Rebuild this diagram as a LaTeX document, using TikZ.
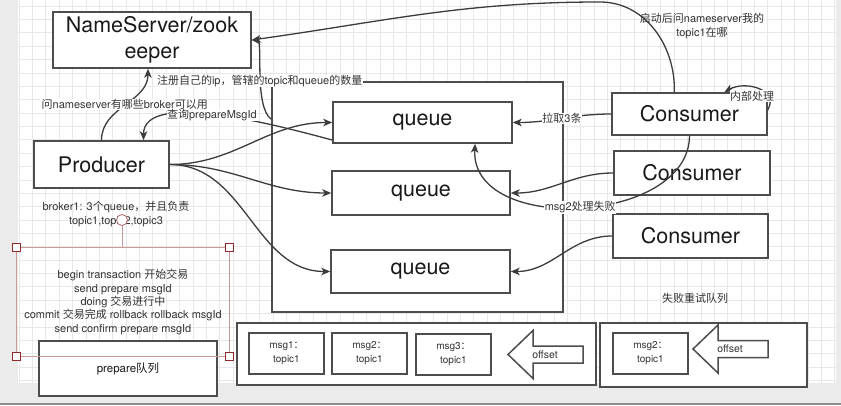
\documentclass[tikz,border=0pt]{standalone}
\usepackage{fontspec}
\setmainfont{TeX Gyre Heros}
\newfontfamily\cjk{Noto Sans CJK SC}
\newcommand{\zh}[1]{{\cjk #1}}
\usepackage{tikz}
\usetikzlibrary{arrows.meta}

\definecolor{edgegray}{HTML}{3C3C3C}
\definecolor{boxgray}{HTML}{4D4D4D}
\definecolor{gridgray}{HTML}{E8E8E8}
\definecolor{pagegray}{HTML}{EBEBEB}
\definecolor{selred}{HTML}{8E2A2A}
\definecolor{selpink}{HTML}{C99A9A}

% hollow "offset" pointer: tip x, tip y, node name
\newcommand{\offsetpointer}[3]{%
  \draw[arrowshape] (#1,#2) -- ++(25,24) -- ++(0,-15.5) -- ++(50,0) -- ++(0,-17) -- ++(-50,0) -- ++(0,-15.5) -- cycle;
  \node (#3) [arrowtxt] at ({#1+37},#2) {offset};}

\begin{document}
\begin{tikzpicture}
    [
      x=1pt, y=1pt,
      box/.style={draw=boxgray, line width=1.5pt, fill=white, inner sep=0pt, align=center, text=black!90, font=\fontsize{21.5}{26}\selectfont},
      brokerbox/.style={draw=boxgray, line width=1.5pt, fill=white, inner sep=0pt},
      msg/.style={draw=boxgray, line width=1.5pt, fill=white, inner sep=0pt, align=center, minimum width=75pt, minimum height=41pt, text=black!80, font=\fontsize{10}{14}\selectfont},
      lbl/.style={fill=white, inner sep=0.5pt, align=center, text=black!80, font=\fontsize{11}{13.3}\selectfont},
      note/.style={align=center, text=black!80, font=\fontsize{11}{13.3}\selectfont},
      arrowshape/.style={draw=boxgray, line width=1.5pt, fill=white, line join=miter},
      arrowtxt/.style={inner sep=0pt, text=black!80, font=\fontsize{10.5}{12}\selectfont},
      handle/.style={draw=selred, fill=white, line width=0.8pt, minimum size=8pt, inner sep=0pt},
      post/.style={-{Stealth[length=9pt,width=7.5pt,inset=2.5pt]}, draw=edgegray, line width=1.3pt},
    ]

    \useasboundingbox (0,0) rectangle (841,405);
    % canvas and grid
    \fill[pagegray] (0,0) rectangle (841,405);
    \fill[white] (18,22) rectangle (836,405);
    \foreach \i in {0,...,61} \draw[gridgray, line width=0.6pt] ({19+13.37*\i},22) -- ({19+13.37*\i},405);
    \foreach \j in {0,...,28} \draw[gridgray, line width=0.6pt] (18,{399-13.37*\j}) -- (836,{399-13.37*\j});
    \draw[black!45, line width=2pt] (0,1.5) -- (841,1.5);

    \node (nameserver) [box, minimum width=198pt, minimum height=56pt] at (152,365) {NameServer/zook\\eeper};
    \node (producer) [box, minimum width=135pt, minimum height=47pt] at (101.5,240.5) {Producer};
    \node (broker) [brokerbox, minimum width=291pt, minimum height=230pt] at (417.5,208) {};
    \node (queue1) [box, minimum width=179pt, minimum height=41pt] at (422.5,282.5) {queue};
    \node (queue2) [box, minimum width=178pt, minimum height=44pt] at (421,212) {queue};
    \node (queue3) [box, minimum width=179pt, minimum height=43pt] at (420.5,133.5) {queue};
    \node (c1) [box, minimum width=155pt, minimum height=42pt] at (689.5,291) {Consumer};
    \node (c2) [box, minimum width=156pt, minimum height=44pt] at (692,232) {Consumer};
    \node (c3) [box, minimum width=155pt, minimum height=44pt] at (690.5,169) {Consumer};

    \node (brokertxt) [note] at (116,191) {broker1: 3\zh{个}queue\zh{，并且负责}\\topic1,topic2,topic3};
    \node (steps) [note] at (123,103) {begin transaction \zh{开始交易}\\send prepare msgId\\doing \zh{交易进行中}\\commit \zh{交易完成} rollback rollback msgId\\send confirm prepare msgId};
    \node (prepq) [box, minimum width=178pt, minimum height=55pt, font=\fontsize{11.5}{13}\selectfont] at (128,36.5) {prepare\zh{队列}};

    % consume queue
    \node (msgq) [brokerbox, minimum width=359pt, minimum height=62pt] at (416.5,51) {};
    \node (m1) [msg] at (286.5,51.5) {msg1\zh{：}\\topic1};
    \node (m2) [msg] at (369.5,51.5) {msg2\zh{：}\\topic1};
    \node (m3) [msg] at (453.5,50.5) {msg3\zh{：}\\topic1};
    \offsetpointer{508}{50.5}{off1}

    % retry queue
    \node (retrytxt) [note] at (695,107) {\zh{失败重试队列}};
    \node (retryq) [brokerbox, minimum width=207pt, minimum height=64pt] at (703.5,50) {};
    \node (rm2) [msg] at (650.5,51.5) {msg2\zh{：}\\topic1};
    \offsetpointer{693}{56}{off2}

    \path
    (producer.east) edge [post, out=0, in=180] (queue1.west)
    (producer.east) edge [post, out=0, in=180] (queue2.west)
    (producer.east) edge [post, out=0, in=180] (queue3.west)
    (producer.north) edge [post, out=90, in=-90] node [lbl, pos=0.5] {\zh{问}nameserver\zh{有哪些}broker\zh{可以用}} (nameserver.262)
    (queue1.191) edge [post, out=165, in=90, looseness=0.7] node [lbl, pos=0.53] {\zh{查询}prepareMsgId} (producer.30)
    (c1.west) edge [post, out=180, in=0] node [lbl] {\zh{拉取}3\zh{条}} (queue1.east)
    (c2.west) edge [post, out=180, in=0] (queue2.east)
    (c3.west) edge [post, out=180, in=0] (queue3.east)
    ;

    \draw[post] (broker.152) .. controls (254,298) and (263,364) .. (nameserver.east)
      node [lbl, pos=0.45] {\zh{注册自己的}ip\zh{，管辖的}topic\zh{和}queue\zh{的数量}};

    \coordinate (peak) at (600,403);
    \draw[post] (c1.125) to[out=88, in=0] (peak) to[out=180, in=8] (nameserver.east);
    \node (asktxt) [note] at (702,379) {\zh{启动后问}nameserver\zh{我的}\\topic1\zh{在哪}};

    \draw[post] (c1.3) to[out=60, in=30, looseness=1.3] (c1.32);
    \node (selftxt) [lbl] at (752,309) {\zh{内部处理}};

    \draw[post] (c1.south) .. controls (689,180) and (470,170) .. (queue1.338)
      node [lbl, pos=0.5] {msg2\zh{处理失败}};

    % selection frame
    \draw[selpink, line width=0.8pt] (16,49) rectangle (229,158);
    \draw[selpink, line width=0.8pt] (122,158) -- (122,180);
    \node (rot) [circle, draw=selred!70, fill=white, line width=0.8pt, minimum size=11pt, inner sep=0pt] at (122,185) {};
    \foreach \hx/\hy in {16/158, 229/158, 16/49, 229/49}
      \node (h-\hx-\hy) [handle] at (\hx,\hy) {};

  \end{tikzpicture}
\end{document}
